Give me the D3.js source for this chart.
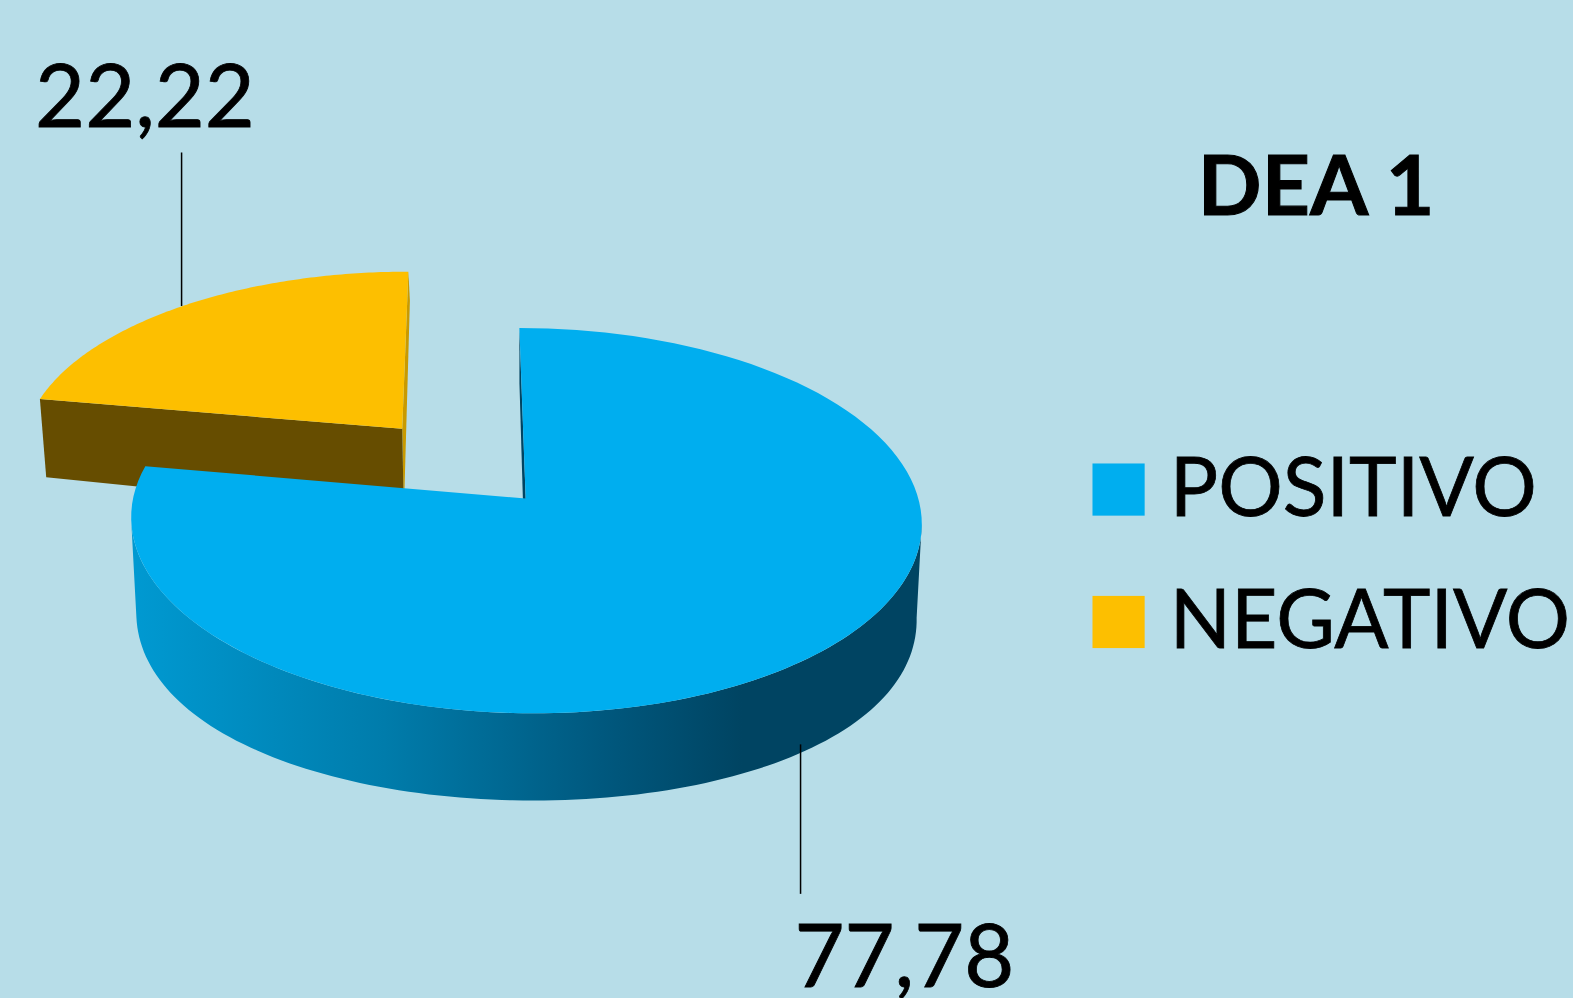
<!DOCTYPE html>
<html>
<head>
<meta charset="utf-8">
<script src="https://d3js.org/d3.v7.min.js"></script>
<style>
    html, body { margin: 0; padding: 0; background: #B7DDE8; }
    svg { display: block; }
    text { font-family: Lato, "Open Sans", sans-serif; fill: #000; }
</style>
</head>
<body>
<div id="pie_chart"></div>
<script>
const title = "DEA 1";
const categories = ["POSITIVO", "NEGATIVO"];
const values = [77.78, 22.22];
const valueLabels = ["77,78", "22,22"];
const colors = ["#00AEEF", "#FDBF00"];
const legendWidths = [366, 399];

const width = 1573;
const height = 998;

const root = d3.select("#pie_chart")
    .append("svg")
    .attr("width", width)
    .attr("height", height);

root.append("rect")
    .attr("width", width)
    .attr("height", height)
    .attr("fill", "#B7DDE8");

const svg = root.append("g")
    .attr("transform", "scale(1.0032)");

// the 3d look: unit circle on a tilted plane, seen in perspective
const x0 = 524, y0 = 497;
const kx = 391.4, ky = 189.5, persp = 0.1146, shear = -7;

function project(u, v) {
    let w = 1 + persp * v;
    return [x0 + (kx * u + shear * v) / w, y0 - ky * v / w];
}

// same point on the underside of the pie
function projectLow(u, v) {
    let p = project(u, v);
    let drop = 93.65 - 15.75 * v - 22.4 * v * v;
    return [x0 + (p[0] - x0) * 0.987, p[1] + drop];
}

let pieData = d3.pie().sort(null)(values);

// points along the rim, offs is the slice explode
function rim(d, offs, fn, a0, a1) {
    let start = a0 === undefined ? d.startAngle : a0;
    let end = a1 === undefined ? d.endAngle : a1;
    return d3.range(0, 121).map(function (i) {
        let a = start + (end - start) * i / 120;
        return fn(offs[0] + Math.sin(a), offs[1] + Math.cos(a));
    });
}

const line = d3.line();
const defs = svg.append("defs");

let sideGradient = defs.append("linearGradient")
    .attr("id", "blue_side")
    .attr("gradientUnits", "userSpaceOnUse")
    .attr("x1", 135).attr("x2", 911)
    .attr("y1", 0).attr("y2", 0);
[[0, "#0099D1"], [0.32, "#007CAB"], [0.6, "#00587E"], [0.78, "#004462"], [1, "#004462"]]
    .forEach(function (s) {
        sideGradient.append("stop")
            .attr("offset", s[0])
            .attr("stop-color", s[1]);
    });

// negativo slice goes first, it sits behind the other one
let neg = pieData[1];
let mid = (neg.startAngle + neg.endAngle) / 2;
let offs = [0.5 * Math.sin(mid), 0.5 * Math.cos(mid)];
let negRim = rim(neg, offs, project);
let negApex = project(offs[0], offs[1]);
let negApexLow = projectLow(offs[0], offs[1]);
let negEnd = negRim[negRim.length - 1];
let negEndLow = projectLow(offs[0] + Math.sin(neg.endAngle), offs[1] + Math.cos(neg.endAngle));
let negStart = negRim[0];
let negStartLow = projectLow(offs[0] + Math.sin(neg.startAngle), offs[1] + Math.cos(neg.startAngle));

svg.append("path")
    .attr("d", line([negEnd, negEndLow, negApexLow, negApex]) + "Z")
    .attr("fill", "#C99A00");

svg.append("path")
    .attr("d", line([negStart, negStartLow, negApexLow, negApex]) + "Z")
    .attr("fill", "#664D00");

svg.append("path")
    .attr("d", line([negApex].concat(negRim)) + "Z")
    .attr("fill", colors[1]);

// positivo slice
let pos = pieData[0];
let apex = project(0, 0);
let apexLow = projectLow(0, 0);
let posStart = project(Math.sin(pos.startAngle), Math.cos(pos.startAngle));
let posStartLow = projectLow(Math.sin(pos.startAngle), Math.cos(pos.startAngle));

svg.append("path")
    .attr("d", line([posStart, posStartLow, apexLow, apex]) + "Z")
    .attr("fill", "#004462");

// side wall runs between the widest points of the rim
let sideFrom = 97 * Math.PI / 180;
let sideTo = 263 * Math.PI / 180;
let sideTop = rim(pos, [0, 0], project, sideFrom, sideTo);
let sideLow = rim(pos, [0, 0], projectLow, sideFrom, sideTo).reverse();

svg.append("path")
    .attr("d", line(sideTop.concat(sideLow)) + "Z")
    .attr("fill", "url(#blue_side)");

svg.append("path")
    .attr("d", line([apex].concat(rim(pos, [0, 0], project))) + "Z")
    .attr("fill", colors[0]);

// leader lines
[[181, 152, 181, 305], [798, 742, 798, 891]].forEach(function (l) {
    svg.append("line")
        .attr("x1", l[0]).attr("y1", l[1])
        .attr("x2", l[2]).attr("y2", l[3])
        .attr("stroke", "#000")
        .attr("stroke-width", 1.5);
});

// value labels
svg.append("text")
    .attr("x", 35)
    .attr("y", 127)
    .attr("font-size", 86)
    .attr("stroke", "#000")
    .attr("stroke-width", 0.8)
    .text(valueLabels[1]);

svg.append("text")
    .attr("x", 792)
    .attr("y", 984)
    .attr("font-size", 86)
    .attr("stroke", "#000")
    .attr("stroke-width", 0.8)
    .text(valueLabels[0]);

// title
svg.append("text")
    .attr("x", 1194)
    .attr("y", 214)
    .attr("font-size", 82)
    .attr("font-weight", "bold")
    .attr("stroke", "#000")
    .attr("stroke-width", 1)
    .attr("textLength", 236)
    .attr("lengthAdjust", "spacingAndGlyphs")
    .text(title);

// legend
let legendY = d3.scalePoint()
    .domain(categories)
    .range([488, 620]);

let legend = svg.selectAll(".legend")
    .data(categories)
    .enter()
    .append("g")
    .attr("class", "legend")
    .attr("transform", function (d) {
        return `translate(1089, ${legendY(d)})`;
    });

legend.append("rect")
    .attr("y", -26)
    .attr("width", 52)
    .attr("height", 52)
    .attr("fill", function (d, i) {
        return colors[i];
    });

legend.append("text")
    .attr("x", 77)
    .attr("y", 26)
    .attr("font-size", 82)
    .attr("stroke", "#000")
    .attr("stroke-width", 0.8)
    .attr("textLength", function (d, i) {
        return legendWidths[i];
    })
    .attr("lengthAdjust", "spacingAndGlyphs")
    .text(function (d) {
        return d;
    });
</script>
</body>
</html>
